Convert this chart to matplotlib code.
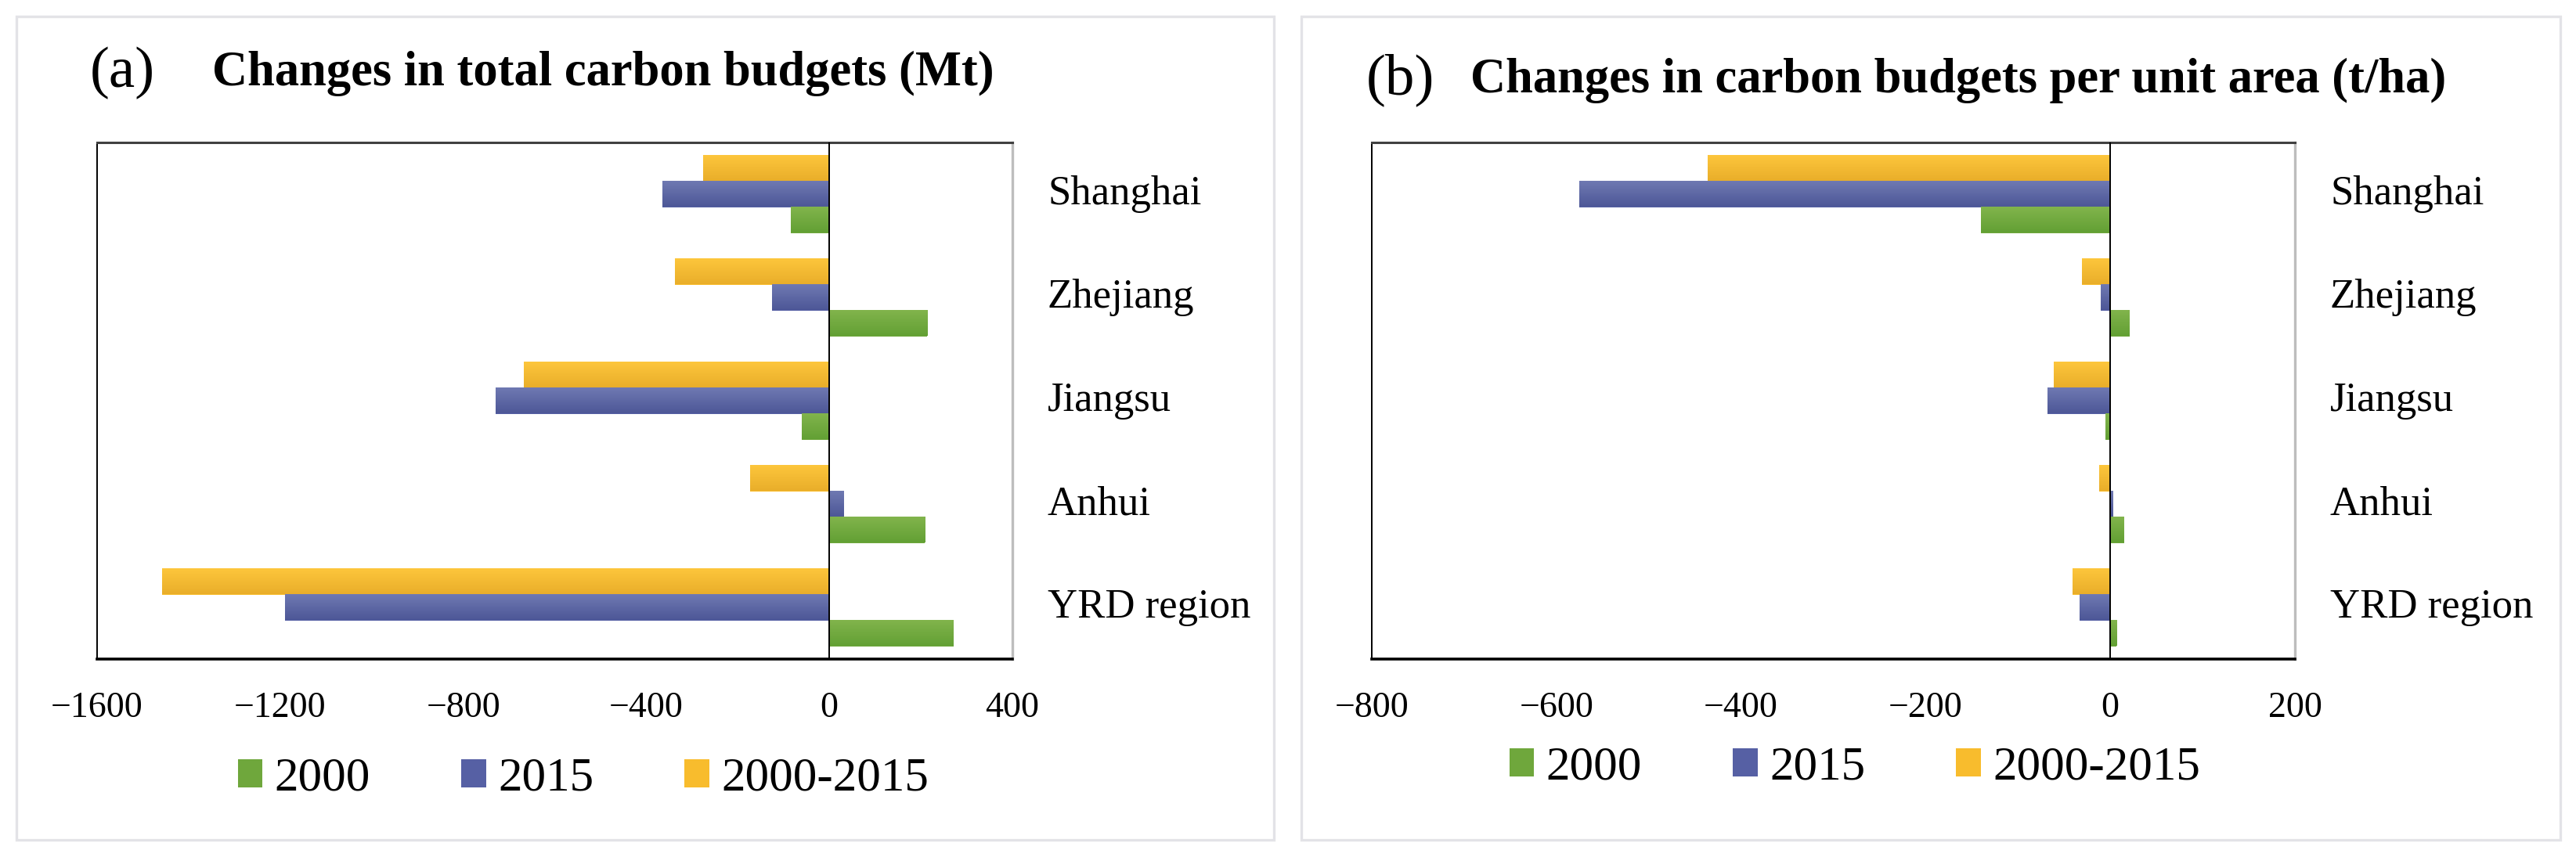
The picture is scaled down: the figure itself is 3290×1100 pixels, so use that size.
import matplotlib
matplotlib.use("Agg")
import matplotlib.pyplot as plt
from matplotlib.patches import Rectangle, Patch
from matplotlib.transforms import blended_transform_factory
from matplotlib.colors import to_rgb
import numpy as np

plt.rcParams['font.family'] = ['Liberation Serif', 'DejaVu Serif']

regions = ["Shanghai", "Zhejiang", "Jiangsu", "Anhui", "YRD region"]
series_names = ["2000", "2015", "2000-2015"]
colors = {"2000": "#6FA73C", "2015": "#5660A4", "2000-2015": "#F8BC2D"}
grad = {"2000": ("#82B44C", "#62A034"),
        "2015": ("#6F79B2", "#4D5797"),
        "2000-2015": ("#FDC63C", "#E9AE2A")}

total_2000 = [-85, 214, -60, 209, 272]
total_2015 = [-364, -125, -730, 31, -1190]
total_change = [-275, -337, -667, -173, -1458]

unit_2000 = [-140, 21, -5, 15, 7]
unit_2015 = [-575, -10, -68, 3, -33]
unit_change = [-436, -31, -61, -12, -41]

ticks_a = [-1600, -1200, -800, -400, 0, 400]
ticks_b = [-800, -600, -400, -200, 0, 200]

W, H = 3290, 1100
fig = plt.figure(figsize=(W / 100, H / 100), dpi=100)

def px(x0, y0, x1, y1):
    return [x0 / W, 1 - y1 / H, (x1 - x0) / W, (y1 - y0) / H]

# panel borders
for (x0, y0, x1, y1) in [(21, 21, 1627, 1073), (1662, 21, 3270, 1073)]:
    fig.patches.append(Rectangle((x0 / W, 1 - y1 / H), (x1 - x0) / W, (y1 - y0) / H,
                                 transform=fig.transFigure, fill=False,
                                 edgecolor="#E3E3E7", lw=2.4, zorder=0))

def gradient_fill(ax, bars, name):
    top, bot = np.array(to_rgb(grad[name][0])), np.array(to_rgb(grad[name][1]))
    t = np.linspace(0, 1, 64)[:, None, None]
    img = top[None, None, :] * (1 - t) + bot[None, None, :] * t
    for r in bars:
        x0, w = r.get_x(), r.get_width()
        y0, h = r.get_y(), r.get_height()
        if w == 0:
            continue
        ax.imshow(img, extent=(min(x0, x0 + w), max(x0, x0 + w), y0 + h, y0),
                  origin='upper', aspect='auto', zorder=2.1, interpolation='bilinear')

def draw(ax, s2000, s2015, schange, ticks, xlim):
    y = np.arange(len(regions))
    h = 0.25
    b3 = ax.barh(y - h, schange, height=h, color=colors["2000-2015"], zorder=2)
    b2 = ax.barh(y, s2015, height=h, color=colors["2015"], zorder=2)
    b1 = ax.barh(y + h, s2000, height=h, color=colors["2000"], zorder=2)
    gradient_fill(ax, b3, "2000-2015")
    gradient_fill(ax, b2, "2015")
    gradient_fill(ax, b1, "2000")
    ax.set_ylim(len(regions) - 0.5, -0.5)
    ax.set_xlim(*xlim)
    ax.axvline(0, color="black", lw=1.4, zorder=3)
    ax.set_yticks([])
    ax.set_xticks(ticks)
    ax.tick_params(axis='x', length=0, pad=30, labelsize=33)
    ax.spines['top'].set_color('#404040')
    ax.spines['top'].set_linewidth(2.2)
    ax.spines['right'].set_color('#BDBDBD')
    ax.spines['right'].set_linewidth(2.4)
    ax.spines['left'].set_color('black')
    ax.spines['left'].set_linewidth(1.4)
    ax.spines['bottom'].set_color('black')
    ax.spines['bottom'].set_linewidth(2.6)
    trans = blended_transform_factory(ax.transAxes, ax.transData)
    bbox = ax.get_position()
    off = 45 / (bbox.width * W)
    for i, r in enumerate(regions):
        ax.text(1 + off, i, r, transform=trans, ha='left', va='center', fontsize=38)

ax1 = fig.add_axes(px(124, 182, 1293, 842))
draw(ax1, total_2000, total_2015, total_change, ticks_a, (-1600, 400))
ax2 = fig.add_axes(px(1752, 182, 2931, 842))
draw(ax2, unit_2000, unit_2015, unit_change, ticks_b, (-800, 200))

# titles
fig.text(115 / W, 1 - 93 / H, "(a)", fontsize=54, ha='left', va='center')
fig.text(271 / W, 1 - 109 / H, "Changes in total carbon budgets (Mt)", fontsize=45,
         fontweight='bold', ha='left', va='baseline')
fig.text(1745 / W, 1 - 102 / H, "(b)", fontsize=54, ha='left', va='center')
fig.text(1878 / W, 1 - 118 / H, "Changes in carbon budgets per unit area (t/ha)", fontsize=45,
         fontweight='bold', ha='left', va='baseline')

handles = [Patch(facecolor=colors[n], edgecolor='none', label=n) for n in series_names]
for (cx, cy) in [(745, 995), (2369, 981)]:
    fig.legend(handles=handles, loc='center', bbox_to_anchor=(cx / W, 1 - cy / H),
               ncol=3, frameon=False, fontsize=44, handlelength=0.52, handleheight=0.52,
               handletextpad=0.25, columnspacing=1.9, borderpad=0)

fig.savefig("out.png", dpi=100)
